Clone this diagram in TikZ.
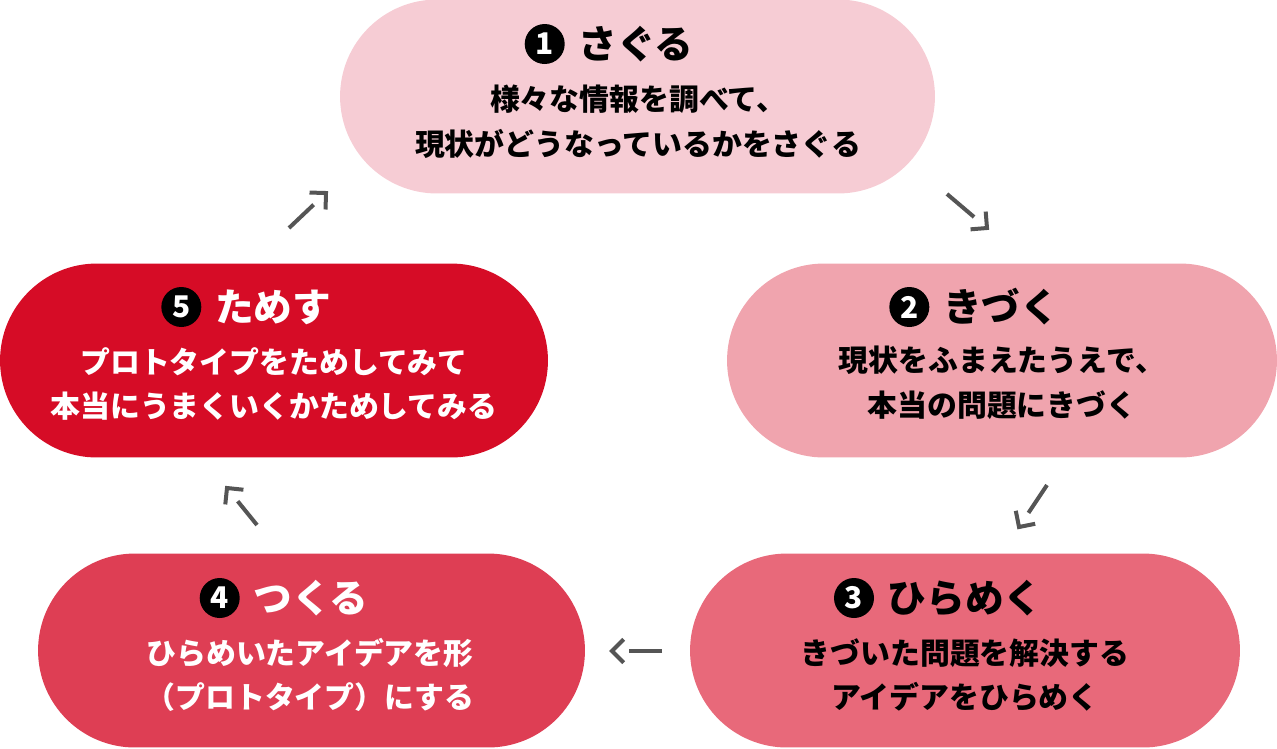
\documentclass[tikz,border=0pt]{standalone}
\usepackage{fontspec}
\setmainfont{Noto Sans CJK JP}
\usepackage{tikz}
\usetikzlibrary{positioning,calc}
\definecolor{pinkA}{HTML}{F6CCD4}
\definecolor{pinkB}{HTML}{F0A4AE}
\definecolor{pinkC}{HTML}{E8697A}
\definecolor{pinkD}{HTML}{DE3E54}
\definecolor{pinkE}{HTML}{D60C26}
\definecolor{arrowgray}{HTML}{555555}
\tikzset{pill/.style={rounded corners=1.94cm,minimum width=11cm,minimum height=3.88cm,inner sep=0pt},
 ttl/.style={font=\fontsize{22}{26}\selectfont\bfseries,inner sep=0pt},
 txt/.style={font=\fontsize{17}{25.5}\selectfont\bfseries,align=center,inner sep=0pt},
 num/.style={circle,fill=black,text=white,minimum size=0.8cm,inner sep=0pt,font=\fontsize{17}{17}\selectfont\bfseries},
 flow/.style={draw=arrowgray,line width=0.08cm}}
\begin{document}
\begin{tikzpicture}[x=0.02cm,y=-0.02cm]
\useasboundingbox (0,0) rectangle (1277,748);
% the five steps
\node[pill,fill=pinkA,minimum width=11.9cm] (p1) at (637.5,96.5) {};
\node[pill,fill=pinkB] (p2) at (1002,360.5) {};
\node[pill,fill=pinkC] (p3) at (965,650.5) {};
\node[pill,fill=pinkD,minimum width=10.94cm] (p4) at (311.5,650.5) {};
\node[pill,fill=pinkE,minimum width=10.96cm] (p5) at (274,360.5) {};
% titles
\node[ttl] (t1) at (636,44) {さぐる}; \node[num,left=0.26cm of t1] (c1) {1};
\node[ttl] (t2) at (1001,307) {きづく}; \node[num,left=0.26cm of t2] (c2) {2};
\node[ttl] (t3) at (965,598) {ひらめく}; \node[num,left=0.26cm of t3] (c3) {3};
\node[ttl,text=white] (t4) at (311,598) {つくる}; \node[num,left=0.26cm of t4] (c4) {4};
\node[ttl,text=white] (t5) at (273,307) {ためす}; \node[num,left=0.26cm of t5] (c5) {5};
% descriptions
\node[txt] (d1) at (638,122) {様々な情報を調べて、\\現状がどうなっているかをさぐる};
\node[txt] (d2) at (1002,383) {現状をふまえたうえで、\\本当の問題にきづく};
\node[txt] (d3) at (965,675) {きづいた問題を解決する\\アイデアをひらめく};
\node[txt,text=white] (d4) at (310,675) {ひらめいたアイデアを形\\（プロトタイプ）にする};
\node[txt,text=white] (d5) at (274,384) {プロトタイプをためしてみて\\本当にうまくいくかためしてみる};
% cycle arrows (shaft, gap, open head)
\coordinate (a1s) at (289,228); \coordinate (a1e) at (326,193);
\coordinate (a2s) at (947,194); \coordinate (a2e) at (987,228);
\coordinate (a3s) at (1047,485); \coordinate (a3e) at (1019,527);
\coordinate (a4s) at (662,651); \coordinate (a4e) at (612,651);
\coordinate (a5s) at (257,525); \coordinate (a5e) at (227,488);
\foreach \a in {a1,a2,a3,a4,a5}{
  \draw[flow] (\a s)--($(\a e)!0.34cm!(\a s)$);
  \draw[flow] ($(\a e)!0.33cm!45:(\a s)$)--(\a e)--($(\a e)!0.33cm!-45:(\a s)$);
}
\end{tikzpicture}
\end{document}
